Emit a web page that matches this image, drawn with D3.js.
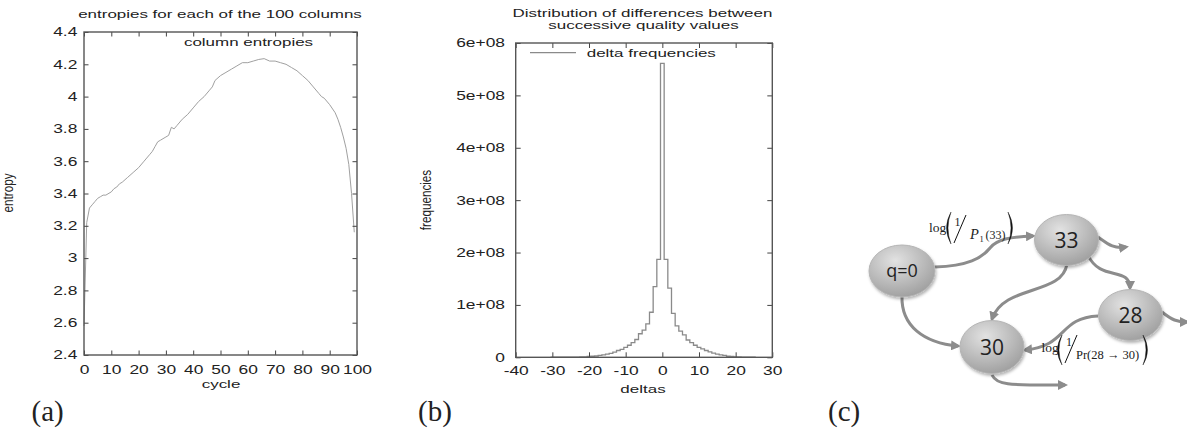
<!DOCTYPE html>
<html>
<head>
<meta charset="utf-8">
<script src="https://cdn.jsdelivr.net/npm/d3@7"></script>
<style>
body { margin: 0; background: #fff; }
text { fill: #222; }
</style>
</head>
<body>
<svg id="fig" width="1187" height="434"></svg>
<script>
// ---- data: (a) column entropies
var cycles    = [0, 1, 2, 3, 4, 5, 6, 7, 8, 10, 11, 12, 13, 14, 16, 18, 20, 22, 24, 25, 26, 27, 28, 30, 31, 32, 33, 34, 36, 38,
                 40, 42, 44, 46, 47, 48, 50, 52, 54, 56, 58, 60, 62, 64, 66, 68, 70, 72, 74, 76, 78, 80, 82, 84, 86, 87, 88, 90,
                 92, 93, 94, 95, 96, 97, 98, 99];
var entropies = [2.58, 3.22, 3.31, 3.33, 3.35, 3.37, 3.38, 3.39, 3.39, 3.41, 3.43, 3.44, 3.46, 3.47, 3.50, 3.53, 3.56, 3.60, 3.64, 3.66,
                 3.69, 3.72, 3.73, 3.75, 3.76, 3.81, 3.80, 3.82, 3.86, 3.89, 3.93, 3.97, 4.00, 4.04, 4.06, 4.10, 4.13, 4.15, 4.17, 4.19,
                 4.21, 4.21, 4.22, 4.23, 4.235, 4.22, 4.22, 4.21, 4.20, 4.18, 4.16, 4.13, 4.10, 4.06, 4.02, 4.00, 3.99, 3.95,
                 3.90, 3.86, 3.81, 3.75, 3.68, 3.58, 3.40, 3.16];
var cycleTicks   = [0, 10, 20, 30, 40, 50, 60, 70, 80, 90, 100];
var entropyTicks = [2.4, 2.6, 2.8, 3, 3.2, 3.4, 3.6, 3.8, 4, 4.2, 4.4];

// ---- data: (b) delta histogram
var deltas = d3.range(-30, 26);
var deltaFreqs = [0.001e8, 0.001e8, 0.001e8, 0.001e8, 0.001e8, 0.002e8, 0.004e8, 0.005e8, 0.008e8, 0.010e8,
                  0.015e8, 0.020e8, 0.025e8, 0.035e8, 0.045e8, 0.06e8, 0.075e8, 0.10e8, 0.13e8, 0.15e8,
                  0.19e8, 0.23e8, 0.28e8, 0.34e8, 0.45e8, 0.52e8, 0.64e8, 0.86e8, 1.35e8, 1.87e8,
                  5.61e8,
                  1.87e8, 1.32e8, 0.84e8, 0.60e8, 0.50e8, 0.43e8, 0.33e8, 0.28e8, 0.23e8, 0.19e8,
                  0.16e8, 0.13e8, 0.105e8, 0.08e8, 0.06e8, 0.045e8, 0.035e8, 0.02e8, 0.015e8, 0.01e8,
                  0.008e8, 0.005e8, 0.003e8, 0.001e8, 0.001e8];
var deltaTicks = [-40, -30, -20, -10, 0, 10, 20, 30];
var freqTicks  = [0, 1e8, 2e8, 3e8, 4e8, 5e8, 6e8];

// ---- data: (c) quality-value transition diagram
var nodeNames = ["q=0", "33", "28", "30"];
var edgeList  = [["q=0", "33"], ["q=0", "30"], ["33", "30"], ["33", "28"], ["33", null], ["28", "30"], ["28", null], ["30", null]];

var svg = d3.select("#fig");
var defs = svg.append("defs");
var FONT = "'Liberation Sans', Arial, Helvetica, sans-serif";
var SERIF = "'Liberation Serif', 'Times New Roman', serif";
var SX = 1.45; // the plots in the figure are stretched sideways

function wideText(g, x, y, str, anchor, size) {
	return g.append("text")
		.attr("transform", "translate(" + x + "," + y + ") scale(" + SX + ",1)")
		.attr("text-anchor", anchor || "middle")
		.style("font-family", FONT)
		.style("font-size", (size || 11.7) + "px")
		.text(str);
}

function plain(d) { return String(d); }

function frame(g, x, y, xTicks, yTicks, yFmt, tick, xPad, yPad) {
	var x0 = x.range()[0], x1 = x.range()[1], y0 = y.range()[0], y1 = y.range()[1];
	var axes = [
		{ax: d3.axisBottom(x).tickValues(xTicks).tickFormat(plain), t: "translate(0," + y0 + ")", pad: xPad},
		{ax: d3.axisTop(x).tickValues(xTicks).tickFormat(""), t: "translate(0," + y1 + ")", pad: 0},
		{ax: d3.axisLeft(y).tickValues(yTicks).tickFormat(yFmt), t: "translate(" + x0 + ",0)", pad: yPad / SX},
		{ax: d3.axisRight(y).tickValues(yTicks).tickFormat(""), t: "translate(" + x1 + ",0)", pad: 0}
	];
	axes.forEach(function(a) {
		var ag = g.append("g").attr("transform", a.t)
			.call(a.ax.tickSizeInner(-tick).tickSizeOuter(0).tickPadding(a.pad));
		ag.select(".domain").remove();
		ag.selectAll("line").attr("stroke", "#444").attr("stroke-width", 1);
		ag.selectAll("text")
			.attr("transform", "scale(" + SX + ",1)")
			.style("font-family", FONT).style("font-size", "12px").attr("fill", "#222");
	});
	g.append("rect")
		.attr("x", x0).attr("y", y1).attr("width", x1 - x0).attr("height", y0 - y1)
		.attr("fill", "none").attr("stroke", "#555").attr("stroke-width", 1.4);
}

// ===== panel (a)
var ga = svg.append("g");
var xA = d3.scaleLinear().domain([0, 100]).range([84, 357]);
var yA = d3.scaleLinear().domain([2.4, 4.4]).range([355, 32]);

var entropyLine = d3.line()
	.x(function(d, i) { return xA(cycles[i]); })
	.y(function(d) { return yA(d); });
ga.append("path")
	.attr("d", entropyLine(entropies))
	.attr("fill", "none").attr("stroke", "#a0a0a0").attr("stroke-width", 1);

frame(ga, xA, yA, cycleTicks, entropyTicks, plain, 4.5, 10, 6.7);

wideText(ga, 220, 18, "entropies for each of the 100 columns");
wideText(ga, 248.5, 45.5, "column entropies");
wideText(ga, 221, 388, "cycle");
ga.append("text")
	.attr("transform", "translate(12.5,193) scale(1.2,1) rotate(-90)")
	.attr("text-anchor", "middle")
	.style("font-family", FONT).style("font-size", "11.7px")
	.text("entropy");

// ===== panel (b)
var gb = svg.append("g");
var xB = d3.scaleLinear().domain([-40, 30]).range([515.7, 772.3]);
var yB = d3.scaleLinear().domain([0, 6e8]).range([357.3, 43]);

var stepPts = [];
deltas.forEach(function(d, i) {
	stepPts.push([d - 0.5, deltaFreqs[i]], [d + 0.5, deltaFreqs[i]]);
});
var stepLine = d3.line()
	.x(function(p) { return xB(p[0]); })
	.y(function(p) { return yB(p[1]); });
gb.append("path")
	.attr("d", stepLine(stepPts))
	.attr("fill", "none").attr("stroke", "#8a8a8a").attr("stroke-width", 1.3);

function freqFmt(d) { return d === 0 ? "0" : (d / 1e8) + "e+08"; }
frame(gb, xB, yB, deltaTicks, freqTicks, freqFmt, 5, 9.4, 10.7);

wideText(gb, 642.5, 17.3, "Distribution of differences between");
wideText(gb, 643.5, 29.3, "successive quality values");
gb.append("line")
	.attr("x1", 530).attr("x2", 576).attr("y1", 52.7).attr("y2", 52.7)
	.attr("stroke", "#8a8a8a").attr("stroke-width", 1.3);
wideText(gb, 586.7, 57.3, "delta frequencies", "start");
wideText(gb, 643, 392.7, "deltas");
gb.append("text")
	.attr("transform", "translate(431,200) scale(1.3,1) rotate(-90)")
	.attr("text-anchor", "middle")
	.style("font-family", FONT).style("font-size", "11.7px")
	.text("frequencies");

// ===== panel (c)
var gc = svg.append("g");
var nodeLayout = {
	"q=0": {x: 902, y: 271, rx: 33, ry: 26, size: 18},
	"33":  {x: 1066.5, y: 240, rx: 32, ry: 25.5, size: 21},
	"28":  {x: 1130.5, y: 315, rx: 32, ry: 25.5, size: 21},
	"30":  {x: 992, y: 347, rx: 32, ry: 26.5, size: 21}
};
// hand-drawn curved arrows, same order as edgeList
var edgePaths = [
	"M935,267 C968,266 982,258 990,248 C997,239 1010,237 1033,236",
	"M902,296 C901,326 924,343 958,346",
	"M1067,264 C1062,296 1004,284 992,319",
	"M1088,255 C1100,282 1130,266 1130,288",
	"M1098,237 C1108,244 1113,249 1126,247",
	"M1098,316 C1058,318 1068,346 1025,350",
	"M1162,312 C1172,320 1177,322 1187,322",
	"M992,375 C997,386 1012,385 1065,385"
];

var grad = defs.append("radialGradient").attr("id", "nodeFill")
	.attr("cx", "40%").attr("cy", "30%").attr("r", "75%");
grad.append("stop").attr("offset", "0%").attr("stop-color", "#e2e2e2");
grad.append("stop").attr("offset", "100%").attr("stop-color", "#9d9d9d");
defs.append("filter").attr("id", "shadow").attr("x", "-20%").attr("y", "-20%").attr("width", "150%").attr("height", "160%")
	.append("feDropShadow").attr("dx", 1).attr("dy", 2).attr("stdDeviation", 1.8)
	.attr("flood-color", "#000").attr("flood-opacity", 0.3);
defs.append("marker").attr("id", "head")
	.attr("viewBox", "0 0 10 10").attr("refX", 7).attr("refY", 5)
	.attr("markerWidth", 10).attr("markerHeight", 10)
	.attr("markerUnits", "userSpaceOnUse").attr("orient", "auto")
	.append("path").attr("d", "M0,0 L10,5 L0,10 Z").attr("fill", "#8c8c8c");

gc.selectAll("path.edge")
	.data(edgeList)
	.join("path")
	.attr("class", "edge")
	.attr("d", function(d, i) { return edgePaths[i]; })
	.attr("fill", "none").attr("stroke", "#8c8c8c").attr("stroke-width", 3)
	.attr("marker-end", "url(#head)");

var nodes = gc.selectAll("g.node")
	.data(nodeNames)
	.join("g")
	.attr("class", "node")
	.attr("transform", function(d) { return "translate(" + nodeLayout[d].x + "," + nodeLayout[d].y + ")"; });
nodes.append("ellipse")
	.attr("rx", function(d) { return nodeLayout[d].rx; })
	.attr("ry", function(d) { return nodeLayout[d].ry; })
	.attr("fill", "url(#nodeFill)").attr("stroke", "#b5b5b5").attr("stroke-width", 1)
	.attr("filter", "url(#shadow)");
nodes.append("text")
	.attr("text-anchor", "middle").attr("dy", "0.36em")
	.style("font-family", "'Open Sans', 'Noto Sans', sans-serif")
	.style("font-size", function(d) { return nodeLayout[d].size + "px"; })
	.attr("fill", "#111")
	.text(function(d) { return d; });

// formula labels
function paren(g, x, y0, y1, dir) {
	var m = (y0 + y1) / 2;
	g.append("path")
		.attr("d", "M" + x + "," + y0 + " Q" + (x - dir * 9) + "," + m + " " + x + "," + y1 +
			" Q" + (x - dir * 6) + "," + m + " " + x + "," + y0 + " Z")
		.attr("fill", "#111").attr("stroke", "#111").attr("stroke-width", 0.4);
}
function serif(g, x, y, str, size, italic) {
	return g.append("text").attr("x", x).attr("y", y)
		.style("font-family", SERIF).style("font-size", size + "px")
		.style("font-style", italic ? "italic" : "normal")
		.attr("fill", "#111").text(str);
}
var f1 = gc.append("g");
serif(f1, 929, 232, "log", 13.5);
paren(f1, 951, 212, 244, 1);
serif(f1, 954.5, 226, "1", 12);
f1.append("line").attr("x1", 954).attr("y1", 243).attr("x2", 966).attr("y2", 215).attr("stroke", "#111").attr("stroke-width", 1);
serif(f1, 970, 238.5, "P", 14.5, true);
serif(f1, 979.5, 241.5, "1", 8.5);
serif(f1, 985.5, 238.5, "(33)", 12);
paren(f1, 1008, 212, 244, -1);

var f2 = gc.append("g");
serif(f2, 1041.5, 352, "log", 13.5);
paren(f2, 1062, 335, 365, 1);
serif(f2, 1066, 346, "1", 12);
f2.append("line").attr("x1", 1065).attr("y1", 363).attr("x2", 1077).attr("y2", 335).attr("stroke", "#111").attr("stroke-width", 1);
serif(f2, 1076, 358.5, "Pr(28 \u2192 30)", 12.5);
paren(f2, 1143, 335, 365, -1);

// panel tags
[["(a)", 31.5], ["(b)", 418], ["(c)", 828]].forEach(function(t) {
	svg.append("text").attr("x", t[1]).attr("y", 421)
		.style("font-family", SERIF).style("font-size", "29px")
		.attr("fill", "#111").text(t[0]);
});
</script>
</body>
</html>
